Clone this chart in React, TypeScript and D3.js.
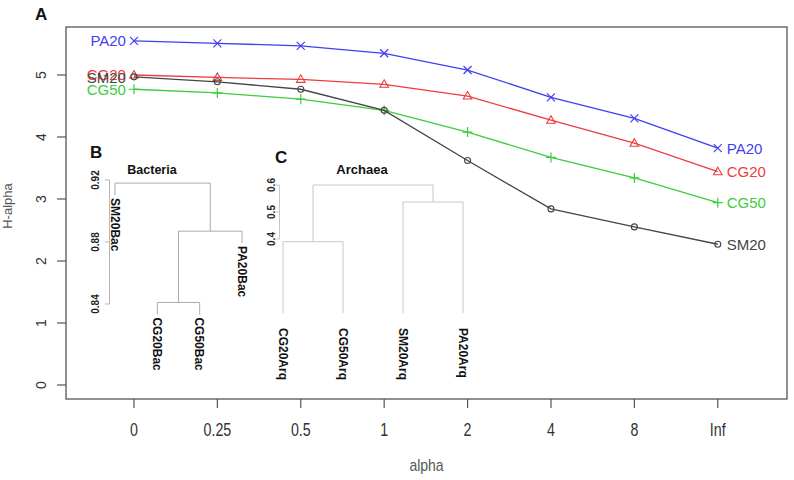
import React from "react";
import * as d3 from "d3";

// ---------- data ----------
const alphaLabels = ["0", "0.25", "0.5", "1", "2", "4", "8", "Inf"];
const seriesNames = ["PA20", "CG20", "CG50", "SM20"];
const pa20 = [5.55, 5.51, 5.47, 5.35, 5.08, 4.64, 4.3, 3.82];
const cg20 = [5.0, 4.96, 4.93, 4.85, 4.66, 4.27, 3.9, 3.44];
const cg50 = [4.77, 4.71, 4.61, 4.43, 4.08, 3.67, 3.34, 2.94];
const sm20 = [4.97, 4.89, 4.77, 4.43, 3.62, 2.84, 2.55, 2.27];
const yTicks = [0, 1, 2, 3, 4, 5];

// Bacteria dendrogram (hclust-style merge matrix)
const bacLabels = ["SM20Bac", "CG20Bac", "CG50Bac", "PA20Bac"];
const bacMerge: [number, number][] = [[-2, -3], [1, -4], [-1, 2]];
const bacHeights = [0.841, 0.887, 0.918];
const bacTicks = [0.84, 0.88, 0.92];

// Archaea dendrogram
const arqLabels = ["CG20Arq", "CG50Arq", "SM20Arq", "PA20Arq"];
const arqMerge: [number, number][] = [[-1, -2], [-3, -4], [1, 2]];
const arqHeights = [0.39, 0.537, 0.6];
const arqLeafHeight = 0.126;
const arqTicks = [0.4, 0.5, 0.6];

const FONT = "'Liberation Sans', Arial, sans-serif";

const seriesData = [pa20, cg20, cg50, sm20];
const seriesColors = ["#3f3ff2", "#ee3b3b", "#3ccc3c", "#454545"];
const seriesShapes = ["x", "tri", "plus", "circle"];

function Marker({ shape, x, y, color }: { shape: string; x: number; y: number; color: string }) {
  const s = 4;
  if (shape === "x")
    return (
      <path d={`M${x - s},${y - s}L${x + s},${y + s}M${x - s},${y + s}L${x + s},${y - s}`} stroke={color} strokeWidth={1.2} fill="none" />
    );
  if (shape === "plus")
    return (
      <path d={`M${x - 5},${y}L${x + 5},${y}M${x},${y - 5}L${x},${y + 5}`} stroke={color} strokeWidth={1.2} fill="none" />
    );
  if (shape === "tri")
    return (
      <path d={`M${x},${y - 4.5}L${x + 4.3},${y + 3}L${x - 4.3},${y + 3}Z`} stroke={color} strokeWidth={1.1} fill="none" />
    );
  return <circle cx={x} cy={y} r={3} stroke={color} strokeWidth={1.1} fill="none" />;
}

type Seg = { x1: number; y1: number; x2: number; y2: number };

function buildDendro(
  labels: string[],
  merge: [number, number][],
  heights: number[],
  xOf: (i: number) => number,
  yOf: (h: number) => number,
  leafEnd: (mergeHeight: number) => number
) {
  const segs: Seg[] = [];
  const leafEnds: { label: string; x: number; y: number }[] = [];
  const nodes: { x: number; h: number }[] = [];
  const getChild = (id: number, parentH: number) => {
    if (id < 0) {
      const li = -id - 1;
      const x = xOf(li);
      const yEnd = yOf(leafEnd(parentH));
      leafEnds.push({ label: labels[li], x, y: yEnd });
      return { x, yTop: yEnd };
    }
    const n = nodes[id - 1];
    return { x: n.x, yTop: yOf(n.h) };
  };
  merge.forEach((m, k) => {
    const h = heights[k];
    const a = getChild(m[0], h);
    const b = getChild(m[1], h);
    const yh = yOf(h);
    segs.push({ x1: a.x, y1: a.yTop, x2: a.x, y2: yh });
    segs.push({ x1: b.x, y1: b.yTop, x2: b.x, y2: yh });
    segs.push({ x1: a.x, y1: yh, x2: b.x, y2: yh });
    nodes.push({ x: (a.x + b.x) / 2, h });
  });
  return { segs, leafEnds };
}

export default function App() {
  const W = 794;
  const H = 480;
  const left = 66, right = 787, top = 27, bottom = 399;

  const x = d3.scaleLinear().domain([-0.815, 7.83]).range([left, right]);
  const y = d3.scaleLinear().domain([-0.226, 5.774]).range([bottom, top]);

  const line = d3
    .line<number>()
    .x((_, i) => x(i))
    .y((d) => y(d));

  // Bacteria dendrogram
  const yB = d3.scaleLinear().domain([0.84, 0.92]).range([304, 180]);
  const xB = d3.scaleLinear().domain([0, 3]).range([115, 242]);
  const bacHang = 0.1 * (d3.max(bacHeights)! - d3.min(bacHeights)!);
  const bac = buildDendro(bacLabels, bacMerge, bacHeights, (i) => xB(i), yB, (h) => h - bacHang);

  // Archaea dendrogram
  const yC = d3.scaleLinear().domain([0.4, 0.6]).range([239, 185]);
  const xC = d3.scaleLinear().domain([0, 3]).range([283, 463]);
  const arq = buildDendro(arqLabels, arqMerge, arqHeights, (i) => xC(i), yC, () => arqLeafHeight);

  const leftLabelOrder = [0, 2, 1, 3];
  const leftLabelDy = [0, 0, 0, 1];

  return (
    <svg width={W} height={H} style={{ position: "absolute", left: 0, top: 0, background: "#fff" }} fontFamily={FONT}>
      <rect x={0} y={0} width={W} height={H} fill="#fff" />
      {/* panel letter A */}
      <text x={35} y={20} fontSize={17} fontWeight="bold" fill="#111">A</text>

      {/* frame */}
      <rect x={left} y={top} width={right - left} height={bottom - top} fill="none" stroke="#555" strokeWidth={1.3} />

      {/* y axis */}
      {yTicks.map((t) => (
        <g key={"yt" + t}>
          <line x1={57} x2={left} y1={y(t)} y2={y(t)} stroke="#555" strokeWidth={1.2} />
          <text transform={`translate(46,${y(t)}) rotate(-90)`} textAnchor="middle" fontSize={14} fill="#333">
            {t}
          </text>
        </g>
      ))}
      <text transform={`translate(12,206) rotate(-90)`} textAnchor="middle" fontSize={13} fill="#555">H-alpha</text>

      {/* x axis */}
      {alphaLabels.map((lab, i) => (
        <g key={"xt" + i}>
          <line x1={x(i)} x2={x(i)} y1={bottom} y2={408} stroke="#555" strokeWidth={1.2} />
          <g transform={`translate(${x(i)},436) scale(0.95,1.2)`}>
            <text textAnchor="middle" fontSize={15} fill="#333">{lab}</text>
          </g>
        </g>
      ))}
      <g transform={`translate(${(left + right) / 2},471) scale(1,1.15)`}>
        <text textAnchor="middle" fontSize={14} fill="#555">alpha</text>
      </g>

      {/* Dendrogram B */}
      <text x={90} y={158} fontSize={17} fontWeight="bold" fill="#111">B</text>
      <text x={152} y={174} textAnchor="middle" fontSize={12.5} fontWeight="bold" fill="#111">Bacteria</text>
      <line x1={109.5} x2={109.5} y1={yB(0.84)} y2={yB(0.92)} stroke="#b5b5b5" />
      {bacTicks.map((t) => (
        <g key={"bt" + t}>
          <line x1={105} x2={109.5} y1={yB(t)} y2={yB(t)} stroke="#b5b5b5" />
          <text transform={`translate(99,${yB(t)}) rotate(-90)`} textAnchor="middle" fontSize={10} fontWeight="bold" fill="#222">
            {t.toFixed(2)}
          </text>
        </g>
      ))}
      {bac.segs.map((s, i) => (
        <line key={"bs" + i} x1={s.x1} y1={s.y1} x2={s.x2} y2={s.y2} stroke="#aaaaaa" strokeWidth={1} />
      ))}
      {bac.leafEnds.map((l) => (
        <text key={l.label} transform={`translate(${l.x},${l.y + 3}) rotate(90)`} dy="0.35em" fontSize={12} fontWeight="bold" fill="#111">
          {l.label}
        </text>
      ))}

      {/* Dendrogram C */}
      <text x={275} y={163} fontSize={17} fontWeight="bold" fill="#111">C</text>
      <text x={362} y={174} textAnchor="middle" fontSize={13} fontWeight="bold" fill="#111">Archaea</text>
      <line x1={279.5} x2={279.5} y1={yC(0.4)} y2={yC(0.6)} stroke="#c8c8c8" />
      {arqTicks.map((t) => (
        <g key={"at" + t}>
          <line x1={276} x2={279.5} y1={yC(t)} y2={yC(t)} stroke="#c8c8c8" />
          <text transform={`translate(275,${yC(t)}) rotate(-90)`} textAnchor="middle" fontSize={10} fontWeight="bold" fill="#222">
            {t.toFixed(1)}
          </text>
        </g>
      ))}
      {arq.segs.map((s, i) => (
        <line key={"as" + i} x1={s.x1} y1={s.y1} x2={s.x2} y2={s.y2} stroke="#c8c8c8" strokeWidth={1} />
      ))}
      {arq.leafEnds.map((l) => (
        <text key={l.label} transform={`translate(${l.x},${l.y + 15}) rotate(90)`} dy="0.35em" fontSize={12} fontWeight="bold" fill="#111">
          {l.label}
        </text>
      ))}

      {/* series lines */}
      {seriesData.map((d, si) => (
        <g key={seriesNames[si]}>
          <path d={line(d)!} fill="none" stroke={seriesColors[si]} strokeWidth={1.3} />
          {d.map((v, i) => (
            <Marker key={i} shape={seriesShapes[si]} x={x(i)} y={y(v)} color={seriesColors[si]} />
          ))}
        </g>
      ))}

      {/* left labels */}
      {leftLabelOrder.map((si, k) => (
        <text
          key={"ll" + si}
          x={x(0) - 8}
          y={y(seriesData[si][0]) + leftLabelDy[k]}
          dy="0.36em"
          textAnchor="end"
          fontSize={15}
          fill={seriesColors[si]}
        >
          {seriesNames[si]}
        </text>
      ))}
      {/* right labels */}
      {seriesData.map((d, si) => (
        <text
          key={"rl" + si}
          x={x(7) + 9}
          y={y(d[d.length - 1])}
          dy="0.36em"
          textAnchor="start"
          fontSize={15}
          fill={seriesColors[si]}
        >
          {seriesNames[si]}
        </text>
      ))}
    </svg>
  );
}
